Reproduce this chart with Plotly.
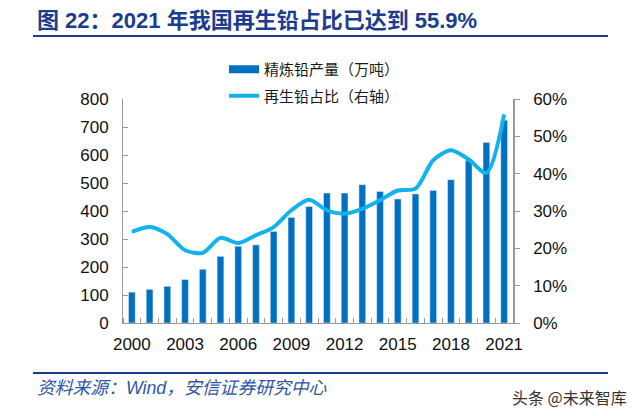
import plotly.graph_objects as go

years = list(range(2000, 2022))
production = [110, 120, 131, 155, 192, 238, 274, 279, 327, 377, 416, 464, 464, 494,
              470, 443, 461, 473, 512, 581, 645, 724]
ratio = [24.4, 25.7, 23.8, 19.5, 18.8, 22.8, 21.4, 23.5, 25.7, 30.2, 33.0, 30.2, 29.3,
         30.6, 32.9, 35.5, 36.0, 43.6, 46.3, 43.8, 40.2, 55.9]
x_ticks = [2000, 2003, 2006, 2009, 2012, 2015, 2018, 2021]
name_bar = "精炼铅产量（万吨）"
name_line = "再生铅占比（右轴）"
title_text = "图 22：2021 年我国再生铅占比已达到 55.9%"
source_text = "资料来源：Wind，安信证券研究中心"
watermark = "头条 @未来智库"

BAR_C = "#0070C0"
LINE_C = "#12B2EE"
AX_C = "#9a9a9a"
NAVY = "#1C3C8F"
FONT = "Liberation Sans, Arial, Noto Sans CJK SC, sans-serif"
CJK = "Noto Sans CJK SC, sans-serif"

OFF = 8  # page body margin
W, H = 640 - OFF, 416 - OFF
L, T = 123 - OFF, 99 - OFF
R = W - (513 - OFF)
B = H - (323 - OFF)
pw, ph = W - L - R, H - T - B


def px(x):
    return (x - OFF - L) / pw


def py(y):
    return (H - B - (y - OFF)) / ph


fig = go.Figure()
fig.add_trace(go.Bar(x=years, y=production, marker_color=BAR_C, width=0.38,
                     showlegend=False, name=name_bar))
fig.add_trace(go.Scatter(x=years, y=ratio, yaxis="y2", mode="lines",
                         line=dict(color=LINE_C, width=4, shape="spline", smoothing=0.8),
                         showlegend=False, name=name_line))
# legend entries
fig.add_trace(go.Scatter(x=[None], y=[None], mode="lines", name=name_bar,
                         line=dict(color=BAR_C, width=8), legendgroup="a"))
fig.add_trace(go.Scatter(x=[None], y=[None], mode="lines", name=name_line,
                         line=dict(color=LINE_C, width=4), legendgroup="b"))

tickfont = dict(family=FONT, size=17, color="#111111")

fig.update_layout(
    width=W, height=H,
    margin=dict(l=L, r=R, t=T, b=B, autoexpand=False),
    paper_bgcolor="white", plot_bgcolor="white",
    showlegend=True,
    legend=dict(xref="container", yref="container", x=(224 - OFF) / W,
                y=1 - (53 - OFF) / H,
                xanchor="left", yanchor="top",
                font=dict(family=CJK, size=15, color="#1a1a1a"),
                bgcolor="rgba(0,0,0,0)", tracegroupgap=4, itemwidth=30),
    bargap=0.6,
    xaxis=dict(range=[1999.5, 2021.5], tickmode="array", tickvals=x_ticks,
               ticks="", showline=True, linecolor=AX_C, linewidth=1, automargin=False,
               showgrid=False, zeroline=False, tickfont=tickfont,
               ticklabelstandoff=6,
               minor=dict(ticks="inside", tick0=1999.5, dtick=1, ticklen=5,
                          tickcolor=AX_C, showgrid=False)),
    yaxis=dict(range=[0, 800], dtick=100, ticks="inside", ticklen=5, tickcolor=AX_C,
               showline=True, linecolor=AX_C, linewidth=1, showgrid=False,
               automargin=False,
               zeroline=False, tickfont=tickfont, ticklabelstandoff=10),
    yaxis2=dict(range=[0, 60], dtick=10, ticksuffix="%", overlaying="y", side="right",
                ticks="outside", ticklen=5, tickcolor=AX_C, showline=True,
                automargin=False,
                linecolor=AX_C, linewidth=1.5, showgrid=False, zeroline=False,
                tickfont=tickfont, ticklabelstandoff=10),
)

ann = [
    dict(text="<b>" + title_text + "</b>", x=px(35), y=py(20), xanchor="left",
         yanchor="middle", font=dict(family=FONT, size=22, color=NAVY)),
    dict(text="<i>" + source_text + "</i>", x=px(35), y=py(388), xanchor="left",
         yanchor="middle", font=dict(family=FONT, size=17.8, color="#2F55A8")),
    dict(text=watermark, x=px(510), y=py(397), xanchor="left", yanchor="middle",
         font=dict(family=CJK, size=16, color="#333333")),
]
for a in ann:
    a.update(xref="paper", yref="paper", showarrow=False)
fig.update_layout(annotations=ann)

shapes = []
for yy in (36, 373):
    shapes.append(dict(type="line", xref="paper", yref="paper", x0=px(33), x1=px(608),
                       y0=py(yy), y1=py(yy), line=dict(color=NAVY, width=2)))
    shapes.append(dict(type="line", xref="paper", yref="paper", x0=px(0), x1=px(7),
                       y0=py(yy), y1=py(yy), line=dict(color=NAVY, width=2)))
fig.update_layout(shapes=shapes)

fig.write_html("out.html")
